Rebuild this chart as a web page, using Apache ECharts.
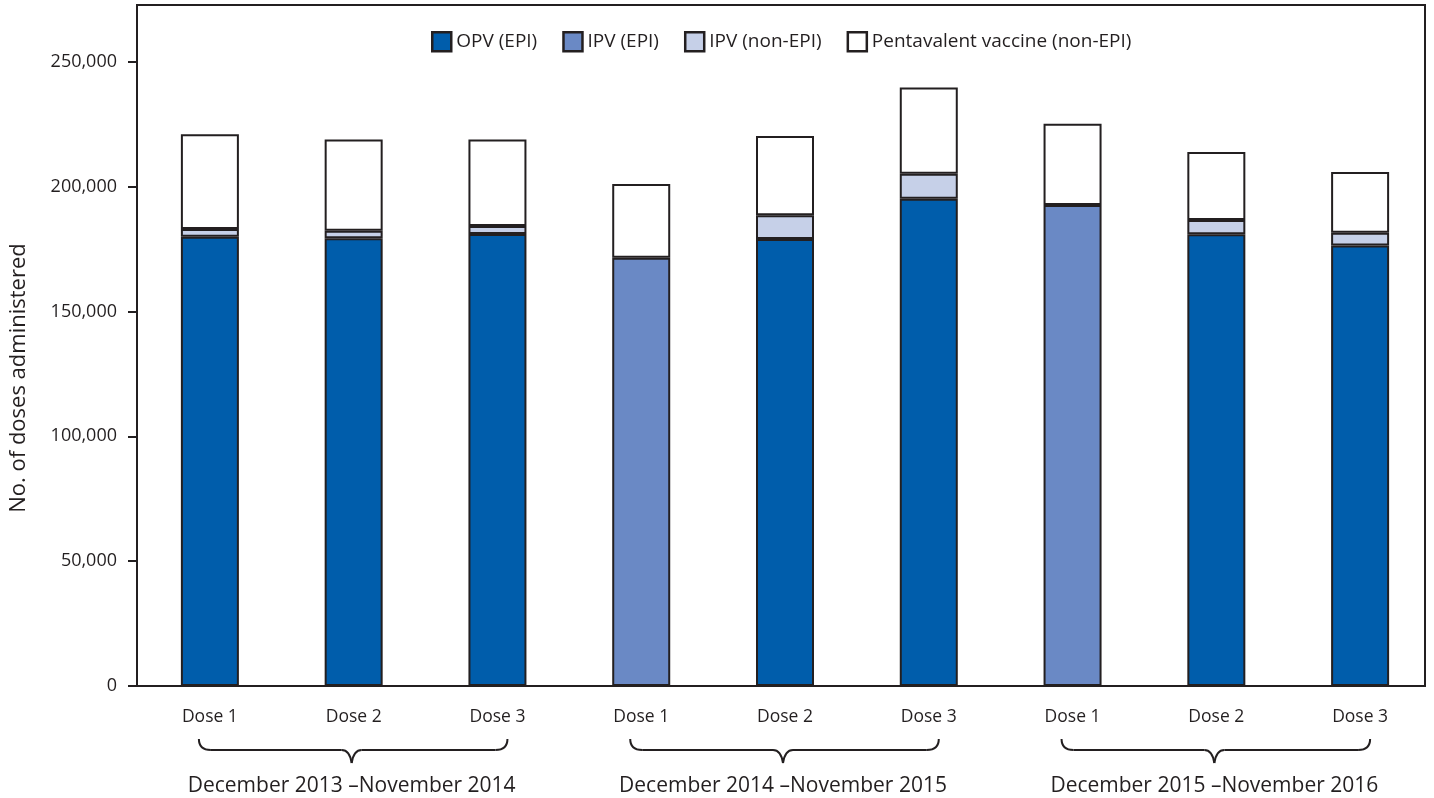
<!DOCTYPE html>
<html>
<head>
<meta charset="utf-8">
<script src="https://cdn.jsdelivr.net/npm/echarts@6/dist/echarts.min.js"></script>
<style>
html,body{margin:0;padding:0;background:#fff;}
#c{width:1434px;height:798px;}
</style>
</head>
<body>
<div id="c"></div>
<script>
var categories = ['Dose 1','Dose 2','Dose 3','Dose 1','Dose 2','Dose 3','Dose 1','Dose 2','Dose 3'];
var groups = ['December 2013 \u2013November 2014','December 2014 \u2013November 2015','December 2015 \u2013November 2016'];
var opvEpi   = [180000, 179400, 181100, null, 179100, 195200, null, 181000, 176500];
var ipvEpi   = [null, null, null, 171600, null, null, 192700, null, null];
var ipvNonEpi= [3100, 3000, 3200, null, 9500, 10000, null, 5700, 5100];
var pentaNonEpi = [37900, 36500, 34600, 29500, 31700, 34600, 32500, 27200, 24300];
var yTicks = [0, 50000, 100000, 150000, 200000, 250000];

var FONT = '"Open Sans", "Liberation Sans", sans-serif';
var INK = '#231f20';
var chart = echarts.init(document.getElementById('c'));

function barSeries(name, data, color) {
  return {
    name: name, type: 'bar', stack: 'total', data: data, barWidth: 58,
    itemStyle: { color: color, borderColor: INK, borderWidth: 2 },
    emphasis: { disabled: true }
  };
}

chart.setOption({
  animation: false,
  textStyle: { fontFamily: FONT },
  grid: { left: 138, right: 2, top: 5, bottom: 112 },
  legend: {
    top: 26, left: 426, itemWidth: 19, itemHeight: 19, itemGap: 25,
    icon: 'rect',
    textStyle: { fontFamily: FONT, fontSize: 19, color: INK },
    itemStyle: { borderColor: INK, borderWidth: 2.5 },
    selectedMode: false
  },
  xAxis: {
    type: 'category', data: categories,
    axisLine: { show: false },
    axisTick: { alignWithLabel: true, length: 8, lineStyle: { color: INK, width: 2 } },
    axisLabel: { fontFamily: FONT, fontSize: 17.5, color: INK, margin: 22 }
  },
  yAxis: {
    type: 'value', min: 0, max: 272800,
    splitLine: { show: false },
    axisLine: { show: false },
    axisTick: { show: true, length: 10, customValues: yTicks, lineStyle: { color: INK, width: 2 } },
    axisLabel: {
      customValues: yTicks, fontFamily: FONT, fontSize: 18, color: INK, margin: 21,
      formatter: function (v) { return v.toLocaleString('en-US'); }
    }
  },
  series: [
    barSeries('OPV (EPI)', opvEpi, '#005dab'),
    barSeries('IPV (EPI)', ipvEpi, '#6a89c5'),
    barSeries('IPV (non-EPI)', ipvNonEpi, '#c6d0e8'),
    barSeries('Pentavalent vaccine (non-EPI)', pentaNonEpi, '#ffffff')
  ]
});

function drawDecor() {
  var els = [];
  var baseY = chart.convertToPixel({ yAxisIndex: 0 }, 0);
  var topY = chart.convertToPixel({ yAxisIndex: 0 }, 272800);
  // plot frame
  els.push({ type: 'rect', z: 100, shape: { x: 137, y: topY, width: 1288, height: baseY - topY }, style: { fill: null, stroke: INK, lineWidth: 2 }, silent: true });
  var y0 = baseY + 53, y1 = baseY + 64, y2 = baseY + 77;
  var st = { fill: null, stroke: INK, lineWidth: 2 };
  for (var g = 0; g < groups.length; g++) {
    var a = chart.convertToPixel({ xAxisIndex: 0 }, g * 3);
    var c = chart.convertToPixel({ xAxisIndex: 0 }, g * 3 + 1);
    var b = chart.convertToPixel({ xAxisIndex: 0 }, g * 3 + 2);
    var L = a - 11, R = b + 10, C = c - 2;
    els.push({ type: 'bezierCurve', shape: { x1: L, y1: y0, cpx1: L, cpy1: y1, x2: L + 12, y2: y1 }, style: st, silent: true });
    els.push({ type: 'line', shape: { x1: L + 12, y1: y1, x2: C - 10, y2: y1 }, style: st, silent: true });
    els.push({ type: 'bezierCurve', shape: { x1: C - 10, y1: y1, cpx1: C - 2, cpy1: y1, x2: C, y2: y2 }, style: st, silent: true });
    els.push({ type: 'bezierCurve', shape: { x1: C, y1: y2, cpx1: C + 2, cpy1: y1, x2: C + 10, y2: y1 }, style: st, silent: true });
    els.push({ type: 'line', shape: { x1: C + 10, y1: y1, x2: R - 12, y2: y1 }, style: st, silent: true });
    els.push({ type: 'bezierCurve', shape: { x1: R - 12, y1: y1, cpx1: R, cpy1: y1, x2: R, y2: y0 }, style: st, silent: true });
    els.push({ type: 'text', x: C, y: baseY + 100, style: { text: groups[g], fontFamily: FONT, fontSize: 21, fill: INK, align: 'center', verticalAlign: 'middle' }, silent: true });
  }
  els.push({ type: 'text', x: 19, y: 378, rotation: Math.PI / 2, style: { text: 'No. of doses administered', fontFamily: FONT, fontSize: 22, fill: INK, align: 'center', verticalAlign: 'middle' }, silent: true });
  chart.setOption({ graphic: els });
}
drawDecor();
</script>
</body>
</html>
